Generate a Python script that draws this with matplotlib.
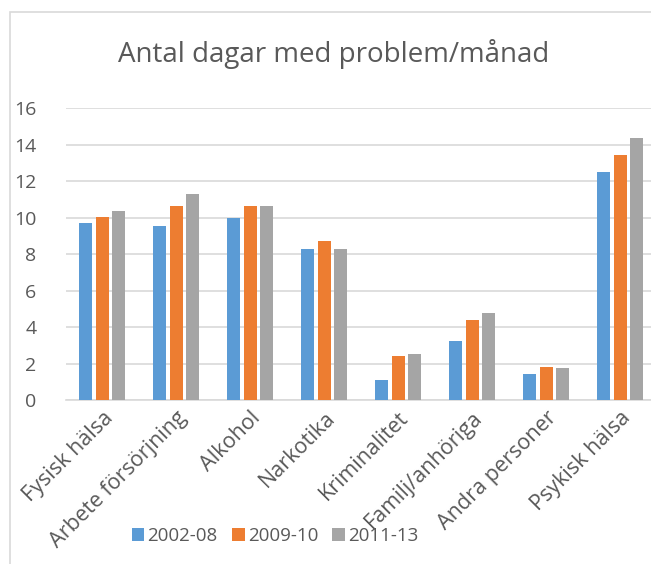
import matplotlib
matplotlib.use("Agg")
import matplotlib.pyplot as plt
from matplotlib.patches import Rectangle
import numpy as np

plt.rcParams['font.family'] = ['Open Sans', 'DejaVu Sans']

categories = ["Fysisk hälsa", "Arbete försörjning", "Alkohol", "Narkotika",
              "Kriminalitet", "Familj/anhöriga", "Andra personer", "Psykisk hälsa"]
series_names = ["2002-08", "2009-10", "2011-13"]
s2002_08 = [9.69, 9.55, 10.0, 8.29, 1.10, 3.23, 1.42, 12.49]
s2009_10 = [10.04, 10.64, 10.62, 8.72, 2.41, 4.40, 1.84, 13.40]
s2011_13 = [10.35, 11.30, 10.66, 8.30, 2.54, 4.78, 1.79, 14.35]
yticks = [0, 2, 4, 6, 8, 10, 12, 14, 16]
title = "Antal dagar med problem/månad"

colors = ["#5b9bd5", "#ed7d31", "#a5a5a5"]
text_color = "#595959"
grid_color = "#d9d9d9"

W, H = 651, 564
fig = plt.figure(figsize=(W / 100, H / 100), dpi=100)

# chart border
fig.patches.append(Rectangle((10 / W, -0.1), 1.2, 1 - 12 / H + 0.1,
                             transform=fig.transFigure, fill=False,
                             edgecolor=grid_color, linewidth=1.2))

ax = fig.add_axes([65.5 / W, 163.7 / H, 591.5 / W, 292.3 / H])
x = np.arange(len(categories))
pitch = 0.223
bw = 0.176
for i, (vals, c, name) in enumerate(zip([s2002_08, s2009_10, s2011_13], colors, series_names)):
    ax.bar(x + (i - 1) * pitch, vals, width=bw, color=c, label=name, zorder=3)

ax.set_xlim(-0.5, len(categories) - 0.5)
ax.set_ylim(0, 16)
ax.set_yticks(yticks)
ax.set_yticklabels([str(t) for t in yticks])
ax.grid(axis='y', color=grid_color, linewidth=1.2, zorder=0)
for s in ['top', 'right', 'left']:
    ax.spines[s].set_visible(False)
ax.spines['bottom'].set_color(grid_color)
ax.spines['bottom'].set_linewidth(1.2)
ax.tick_params(axis='both', length=0, colors=text_color)
ax.tick_params(axis='y', pad=21, labelsize=14)
ax.set_xticks(x)
ax.set_xticklabels(categories, rotation=45, ha='right', va='top',
                   rotation_mode='anchor', fontsize=15.5, color=text_color)
ax.tick_params(axis='x', pad=5)
ax.set_facecolor('none')

fig.text(334 / W, 1 - 62 / H, title, ha='center', va='baseline',
         fontsize=20, color=text_color)

leg = fig.legend(loc='center', bbox_to_anchor=(275 / W, (H - 536) / H), ncol=3,
                 frameon=False, fontsize=13.5, handlelength=0.67, handleheight=0.67,
                 handletextpad=0.17, columnspacing=0.75, labelcolor=text_color)

fig.savefig("out.png", dpi=100)
